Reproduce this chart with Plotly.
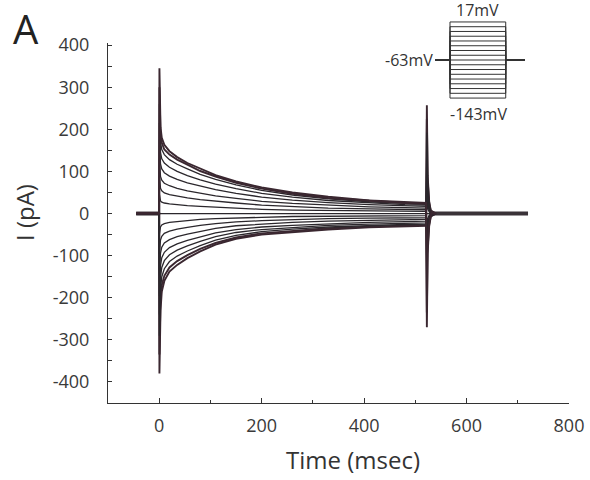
import plotly.graph_objects as go

# Step potentials (mV) of the voltage protocol, holding at -63 mV
STEP_MV = [-143, -133, -123, -113, -103, -93, -83, -73, -63,
           -53, -43, -33, -23, -13, -3, 7, 17]
HOLD_MV = -63
STEP_ON_MS = 0
STEP_OFF_MS = 520

# Sample times (ms) during the step
ON_T = [0.4, 1, 2.5, 5, 10, 20, 35, 55, 80, 110, 150, 200, 260, 330, 410, 480, 521]
# Current (pA) during the step, one row per step potential (same order as STEP_MV)
ON_I = [
    [-380, -290, -230, -185, -160, -138, -122, -106, -90, -74, -60, -50, -44, -38, -33, -30, -29],
    [-335, -255, -205, -170, -148, -128, -113, -99, -84, -70, -57, -47, -41, -35, -31, -28, -27],
    [-290, -220, -180, -150, -131, -114, -101, -89, -76, -63, -52, -43, -37, -32, -28, -26, -25],
    [-240, -185, -152, -128, -112, -98, -87, -77, -66, -55, -45, -38, -33, -28, -25, -23, -22],
    [-195, -150, -124, -105, -92, -81, -72, -64, -55, -46, -38, -32, -28, -24, -21, -19, -18],
    [-145, -112, -94, -80, -70, -62, -55, -49, -42, -35, -29, -25, -21, -18, -16, -15, -14],
    [-95, -74, -63, -54, -47, -42, -37, -33, -28, -24, -20, -17, -14, -12, -11, -10, -10],
    [-48, -37, -32, -27, -24, -21, -19, -17, -14, -12, -10, -9, -7, -6, -6, -5, -5],
    [0, 0, 0, 0, 0, 0, 0, 0, 0, 0, 0, 0, 0, 0, 0, 0, 0],
    [45, 34, 30, 27, 25, 23, 21, 19, 17, 15, 13, 10, 8, 7, 6, 5, 5],
    [90, 68, 60, 54, 49, 45, 41, 37, 33, 29, 25, 20, 16, 13, 11, 9, 9],
    [130, 100, 88, 79, 72, 66, 60, 54, 48, 42, 36, 29, 24, 20, 16, 14, 13],
    [175, 135, 118, 106, 97, 89, 81, 73, 65, 57, 48, 39, 32, 26, 21, 18, 17],
    [215, 165, 145, 130, 120, 110, 100, 90, 80, 70, 59, 48, 39, 31, 25, 21, 20],
    [260, 195, 170, 152, 140, 128, 117, 106, 93, 81, 68, 55, 44, 35, 28, 24, 22],
    [300, 225, 190, 168, 152, 140, 128, 116, 101, 88, 73, 59, 47, 37, 30, 25, 23],
    [345, 260, 205, 180, 163, 148, 134, 120, 106, 91, 76, 62, 50, 40, 31, 27, 25],
]

# Tail currents after the step returns to holding
OFF_T = [522.5, 524, 527, 532, 540]
OFF_I = [
    [257, 90, 29, -6, 0],
    [225, 79, 25, -5, 0],
    [192, 67, 21, -5, 0],
    [160, 56, 18, -4, 0],
    [128, 45, 14, -3, 0],
    [96, 34, 11, -3, 0],
    [64, 22, 7, -2, 0],
    [32, 11, 4, -1, 0],
    [0, 0, 0, 0, 0],
    [-34, -12, -4, 1, 0],
    [-68, -24, -8, 2, 0],
    [-100, -35, -11, 2, 0],
    [-135, -47, -15, 3, 0],
    [-168, -58, -18, 4, 0],
    [-200, -70, -22, 4, 0],
    [-235, -82, -26, 5, 0],
    [-270, -95, -30, 6, 0],
]

# Holding-current baseline before and after the steps
PRE_T = [-45, 0]
POST_T = [530, 720]
BASE_I = [0, 0]

# Axis ticks
X_TICKS = [0, 200, 400, 600, 800]
X_MINOR = [100, 300, 500, 700]
Y_TICKS = [-400, -300, -200, -100, 0, 100, 200, 300, 400]
Y_MINOR = [-350, -250, -150, -50, 50, 150, 250, 350]

INK = "#2b272c"
FONT = "Open Sans, Lato, sans-serif"

fig = go.Figure()

# Thick baseline segments (all sweeps overlap here)
for seg in (PRE_T, POST_T):
    fig.add_trace(go.Scatter(x=seg, y=BASE_I, mode="lines",
                             line=dict(color="#3a3338", width=4),
                             hoverinfo="skip", showlegend=False))

# One current sweep per step potential
n = len(STEP_MV)
for i in range(n):
    t = PRE_T + [STEP_ON_MS] + ON_T + OFF_T + [POST_T[0]]
    y = BASE_I + [0] + ON_I[i] + OFF_I[i] + [0]
    outer = i in (0, 1, n - 2, n - 1)
    fig.add_trace(go.Scatter(
        x=t, y=y, mode="lines",
        line=dict(color="#3a2730" if outer else INK, width=1.9 if outer else 1.3),
        name=f"{STEP_MV[i]} mV", hoverinfo="skip", showlegend=False))

# Voltage protocol diagram
for v in STEP_MV:
    fig.add_trace(go.Scatter(
        x=[-140, STEP_ON_MS, STEP_ON_MS, STEP_OFF_MS, STEP_OFF_MS, 700],
        y=[HOLD_MV, HOLD_MV, v, v, HOLD_MV, HOLD_MV],
        xaxis="x2", yaxis="y2", mode="lines",
        line=dict(color="#333", width=1), hoverinfo="skip", showlegend=False))

axis_common = dict(showgrid=False, zeroline=False, showline=True, linecolor="#333",
                   linewidth=1, ticks="inside", tickcolor="#333", automargin=False,
                   tickfont=dict(family=FONT, size=18, color="#3a3a3a"))

def label(v):
    return str(v).replace("\u2212", "-")

fig.update_layout(
    template="none",
    width=590, height=480,
    margin=dict(l=108, r=21, t=10, b=77),
    paper_bgcolor="white", plot_bgcolor="white",
    xaxis=dict(range=[-100, 800], tickmode="array", tickvals=X_TICKS,
               ticktext=[label(v) for v in X_TICKS], ticklen=5,
               minor=dict(tickmode="array", tickvals=X_MINOR, ticklen=3, ticks="inside",
                          tickcolor="#333"),
               ticklabelstandoff=6, **axis_common),
    yaxis=dict(range=[-450, 405], domain=[0, 0.916], tickmode="array",
               tickvals=Y_TICKS, ticktext=[label(v) for v in Y_TICKS], ticklen=4,
               minor=dict(tickmode="array", tickvals=Y_MINOR, ticklen=4, ticks="inside",
                          tickcolor="#333"),
               ticklabelstandoff=14, **axis_common),
    xaxis2=dict(domain=[0.7093, 0.9046], range=[-140, 700], anchor="y2",
                visible=False, fixedrange=True),
    yaxis2=dict(domain=[0.7735, 0.972], range=[-145, 19], anchor="x2",
                visible=False, fixedrange=True),
    annotations=[
        dict(text="A", xref="paper", yref="paper", x=-0.178, y=0.952,
             xanchor="center", yanchor="middle",
             showarrow=False, font=dict(family=FONT, size=40, color="#222")),
        dict(text="I (pA)", xref="paper", yref="paper", x=-0.180, y=0.4835,
             xanchor="center", yanchor="middle",
             textangle=-90, showarrow=False, font=dict(family=FONT, size=24, color="#333")),
        dict(text="Time (msec)", xref="paper", yref="paper", x=0.531, y=-0.145,
             xanchor="center", yanchor="middle",
             showarrow=False, font=dict(family=FONT, size=24, color="#333")),
        dict(text="17mV", xref="x2", yref="y2", x=260, y=19, xanchor="center",
             yanchor="bottom", yshift=-2, showarrow=False,
             font=dict(family=FONT, size=16, color="#333")),
        dict(text="-143mV", xref="x2", yref="y2", x=270, y=-145, xanchor="center",
             yanchor="top", yshift=-2, showarrow=False,
             font=dict(family=FONT, size=16, color="#333")),
        dict(text="-63mV", xref="x2", yref="y2", x=-140, y=HOLD_MV, xanchor="right",
             yanchor="middle", xshift=0, showarrow=False,
             font=dict(family=FONT, size=16, color="#333")),
    ],
)

fig.write_html("out.html")
